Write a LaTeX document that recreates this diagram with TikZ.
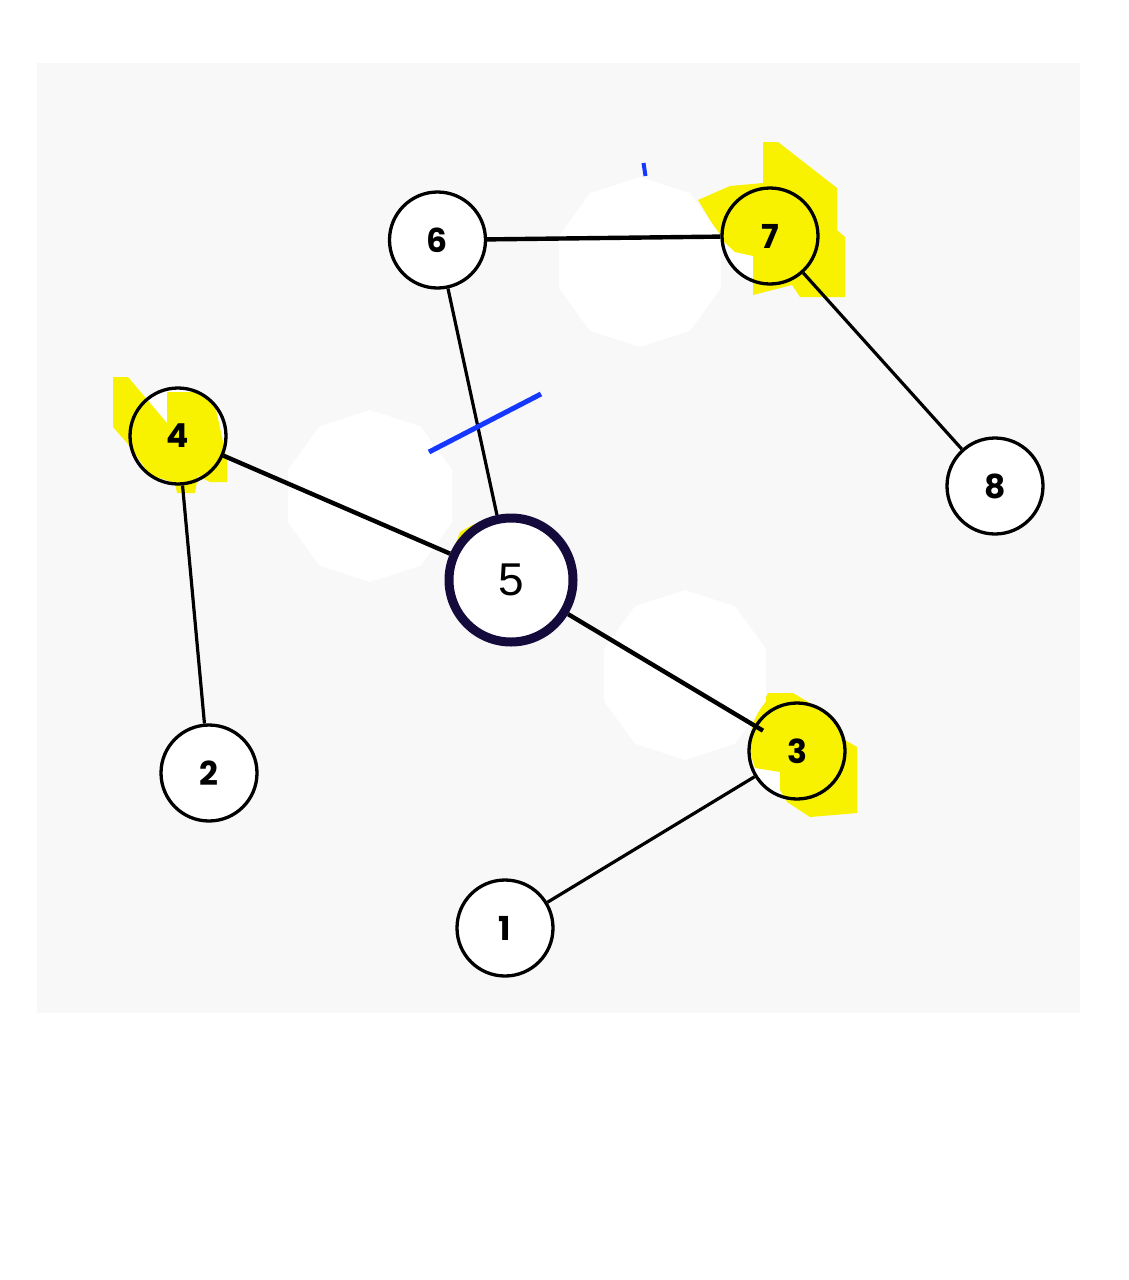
\documentclass[tikz,border=0pt]{standalone}
\usepackage{fontspec}
\setmainfont{Poppins}
\newfontfamily\fivefont{Liberation Sans}
\pgfdeclarelayer{bg}
\pgfdeclarelayer{blob}
\pgfdeclarelayer{edges}
\pgfsetlayers{bg,blob,edges,main}
\definecolor{bggray}{HTML}{F8F8F8}
\definecolor{hl}{HTML}{F8F200}
\definecolor{navy}{HTML}{140A3C}
\definecolor{tickblue}{HTML}{1438FF}
\begin{document}
\begin{tikzpicture}[x=1pt,y=-1pt,
  vtx/.style={circle, draw=black, line width=3.3pt, minimum size=96pt, inner sep=0pt,
    font=\bfseries\fontsize{33}{33}\selectfont},
  plainvtx/.style={vtx, fill=white},
  hlvtx/.style={vtx},
  bignode/.style={circle, draw=navy, line width=9pt, fill=white, minimum size=124pt,
    inner sep=0pt, font=\fivefont\fontsize{46}{46}\selectfont},
  link/.style={line width=4.4pt, black},
  thinlink/.style={line width=3.2pt, black},
  blob/.style={fill=hl},
  halo/.style={fill=white},
  mark line/.style={draw=tickblue, line width=5pt},
]
\useasboundingbox (0,0) rectangle (1129,1280);

% nodes
\node[plainvtx] (n6) at (437.5,240) {6};
\node[hlvtx]    (n7) at (770,236) {7};
\node[hlvtx]    (n4) at (178,436) {4};
\node[plainvtx] (n8) at (995,486) {8};
\node[bignode]  (n5) at (511,580) {5};
\node[hlvtx]    (n3) at (797,751) {3};
\node[plainvtx] (n2) at (209,773) {2};
\node[plainvtx] (n1) at (505,928) {1};

\begin{pgfonlayer}{bg}
  \fill[bggray] (37,63) rectangle (1080,1013);
\end{pgfonlayer}

\begin{pgfonlayer}{blob}
  % white interiors of highlighted nodes
  \fill[white] (n7.center) circle (48pt);
  \fill[white] (n4.center) circle (48pt);
  \fill[white] (n3.center) circle (48pt);
  % yellow highlights
  \fill[blob] (763,142) -- (778,142) -- (837,188) -- (837,230) -- (845,237) -- (845,297)
    -- (800,297) -- (792,285) -- (753,295) -- (753,256) -- (735,252) -- (722,240)
    -- (698,200) -- (730,186) -- (763,183) -- cycle;
  \fill[blob] (113,377) -- (128,377) -- (167,423) -- (167,392) -- (200,392) -- (215,405)
    -- (227,460) -- (227,482) -- (210,482) -- (198,476) -- (195,493) -- (177,493)
    -- (175,483) -- (150,475) -- (127,443) -- (113,427) -- cycle;
  \fill[blob] (768,693) -- (793,693) -- (830,715) -- (845,740) -- (857,747) -- (857,813)
    -- (810,817) -- (787,802) -- (780,790) -- (780,772) -- (755,768) -- (748,745)
    -- (753,723) -- cycle;
  \fill[blob] (455,546) -- (460,532) -- (474,524) -- (482,528) -- cycle;
  % white halos
  \fill[halo] (640,262) +(90:85) \foreach \a in {126,162,...,414} { -- +(\a:85) } -- cycle;
  \fill[halo] (370,496) +(90:86) \foreach \a in {126,162,...,414} { -- +(\a:86) } -- cycle;
  \fill[halo] (685,675) +(90:85) \foreach \a in {126,162,...,414} { -- +(\a:85) } -- cycle;
\end{pgfonlayer}

\begin{pgfonlayer}{edges}
  \draw[link] (n6) -- (n7);
  \draw[thinlink] (n6) -- (n5);
  \draw[thinlink] (n7) -- (n8);
  \draw[link] (n4) -- (n5);
  \draw[thinlink] (n4) -- (n2);
  \draw[link, shorten >=-10pt] (n5) -- (n3);
  \draw[thinlink] (n3) -- (n1);
\end{pgfonlayer}

% blue marks
\coordinate (m1) at (429,452);
\coordinate (m2) at (541,394);
\draw[mark line] (m1) -- (m2);
\coordinate (t1) at (643.5,163);
\coordinate (t2) at (645.5,176);
\draw[draw=tickblue, line width=4pt] (t1) -- (t2);
\end{tikzpicture}
\end{document}
